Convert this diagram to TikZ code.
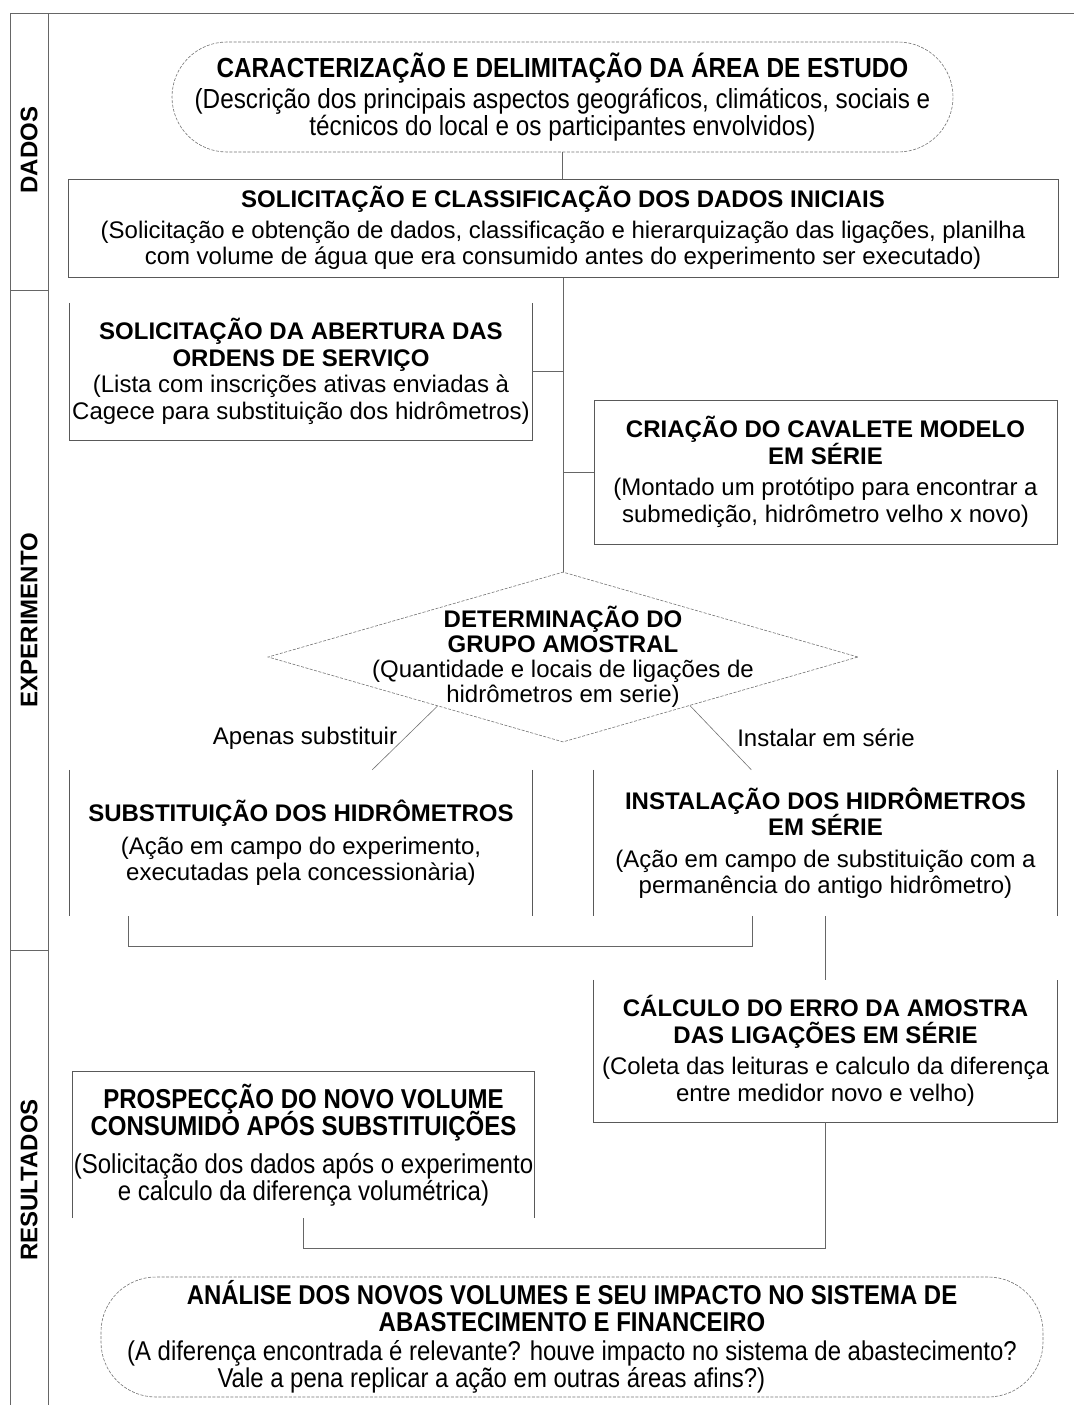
\documentclass[tikz,border=0pt]{standalone}
\usepackage{fontspec}
\setmainfont{Liberation Sans}
\newfontfamily\narrowfont[FakeStretch=0.88]{Liberation Sans}
\usetikzlibrary{shapes.geometric, calc}
\setlength{\lineskiplimit}{-30pt}

\begin{document}
\begin{tikzpicture}[
    x=1pt, y=-1pt,
    every node/.style={font=\fontsize{24}{26.5}\selectfont},
    frame/.style={draw=black!60, line width=1pt},
    edge/.style={draw=black!65, line width=1pt},
    cnct/.style={draw=black!60, line width=1pt},
    thin cnct/.style={draw=black!55, line width=0.6pt},
    blk/.style={rectangle, inner sep=0pt, align=center},
    box/.style={blk, draw=black!65, line width=1pt},
    term/.style={rectangle, rounded corners=55pt, draw=black!55, line width=0.6pt, dash pattern=on 3pt off 1.5pt,
                 inner sep=0pt, align=center, font=\narrowfont\fontsize{27.6}{26.5}\selectfont},
    dmd/.style={diamond, draw=black!55, line width=0.6pt, dash pattern=on 3pt off 1.5pt,
                minimum width=590pt, minimum height=170pt, inner sep=0pt},
    sec/.style={rotate=90, font=\fontsize{24}{26}\selectfont\bfseries}
  ]
    \useasboundingbox (0,0) rectangle (1074,1405);

    % left column with the phases
    \draw[frame] (10,1405) -- (10,14) -- (1074,14);
    \draw[frame] (48,14) -- (48,1405);
    \draw[frame] (10,290) -- (48,290);
    \draw[frame] (10,950) -- (48,950);
    \node[sec] (secdados) at (29,150) {DADOS};
    \node[sec] (secexp) at (29,620) {EXPERIMENTO};
    \node[sec] (secres) at (29,1180) {RESULTADOS};

    % dados
    \node[term, minimum width=781pt, minimum height=110pt] (area) at (562.5,97)
      {{\bfseries CARACTERIZAÇÃO E DELIMITAÇÃO DA ÁREA DE ESTUDO}\\[5pt]
       (Descrição dos principais aspectos geográficos, climáticos, sociais e\\
       técnicos do local e os participantes envolvidos)};
    \node[box, minimum width=990pt, minimum height=98pt] (dados) at (563,228)
      {{\bfseries SOLICITAÇÃO E CLASSIFICAÇÃO DOS DADOS INICIAIS}\\[4pt]
       (Solicitação e obtenção de dados, classificação e hierarquização das ligações, planilha\\
       com volume de água que era consumido antes do experimento ser executado)};

    % experimento
    \node[blk, minimum width=462pt, minimum height=137pt] (ordens) at (301,371.5)
      {{\bfseries SOLICITAÇÃO DA ABERTURA DAS}\\
       {\bfseries ORDENS DE SERVIÇO}\\
       (Lista com inscrições ativas enviadas à\\
       Cagece para substituição dos hidrômetros)};
    \node[box, minimum width=463pt, minimum height=144pt] (cavalete) at (825.5,472)
      {{\bfseries CRIAÇÃO DO CAVALETE MODELO}\\
       {\bfseries EM SÉRIE}\\[5pt]
       (Montado um protótipo para encontrar a\\
       submedição, hidrômetro velho x novo)};
    \node[dmd] (grupo) at (563,657) {};
    \node[blk, font=\fontsize{24}{25}\selectfont] (grupotxt) at (grupo.center)
      {{\bfseries DETERMINAÇÃO DO}\\
       {\bfseries GRUPO AMOSTRAL}\\
       (Quantidade e locais de ligações de\\
       hidrômetros em serie)};
    \node (apenas) at (305,738) {Apenas substituir};
    \node (instalar) at (826,738) {Instalar em série};
    \node[blk, minimum width=462pt, minimum height=146pt] (subst) at (301,843)
      {{\bfseries SUBSTITUIÇÃO DOS HIDRÔMETROS}\\[6pt]
       (Ação em campo do experimento,\\
       executadas pela concessionària)};
    \node[blk, minimum width=463pt, minimum height=146pt] (instal) at (825.5,843)
      {{\bfseries INSTALAÇÃO DOS HIDRÔMETROS}\\
       {\bfseries EM SÉRIE}\\[5pt]
       (Ação em campo de substituição com a\\
       permanência do antigo hidrômetro)};

    % resultados
    \node[blk, minimum width=463pt, minimum height=142pt] (calc) at (825.5,1051)
      {{\bfseries CÁLCULO DO ERRO DA AMOSTRA}\\
       {\bfseries DAS LIGAÇÕES EM SÉRIE}\\[5pt]
       (Coleta das leituras e calculo da diferença\\
       entre medidor novo e velho)};
    \node[blk, minimum width=461pt, minimum height=146pt, font=\narrowfont\fontsize{27.3}{26.5}\selectfont] (prosp) at (303.5,1145)
      {{\bfseries PROSPECÇÃO DO NOVO VOLUME}\\
       {\bfseries CONSUMIDO APÓS SUBSTITUIÇÕES}\\[12pt]
       (Solicitação dos dados após o experimento\\
       e calculo da diferença volumétrica)};
    \node[term, minimum width=942pt, minimum height=120pt, font=\narrowfont\fontsize{27.2}{26.5}\selectfont] (analise) at (572,1337)
      {{\bfseries ANÁLISE DOS NOVOS VOLUMES E SEU IMPACTO NO SISTEMA DE}\\
       {\bfseries ABASTECIMENTO E FINANCEIRO}\\[3pt]
       (A diferença encontrada é relevante? houve impacto no sistema de abastecimento?\\
       \makebox[893pt][l]{\hspace{92pt}Vale a pena replicar a ação em outras áreas afins?)}};

    % open box edges
    \draw[edge] (ordens.north west) -- (ordens.south west) -- (ordens.south east) -- (ordens.north east);
    \draw[edge] (subst.north west) -- (subst.south west) (subst.north east) -- (subst.south east);
    \draw[edge] (instal.north west) -- (instal.south west) (instal.north east) -- (instal.south east);
    \draw[edge] (calc.north west) -- (calc.south west) -- (calc.south east) -- (calc.north east);
    \draw[edge] (prosp.south west) -- (prosp.north west) -- (prosp.north east) -- (prosp.south east);

    % connectors
    \draw[cnct] (area.south) -- (area.south |- dados.north);
    \draw[cnct] (dados.south -| grupo.north) -- (grupo.north);
    \draw[cnct] (ordens.east) -- (ordens.east -| grupo.north);
    \draw[cnct] (cavalete.west) -- (cavalete.west -| grupo.north);
    \draw[thin cnct] ($(grupo.south)!0.425!(grupo.west)$) -- ($(subst.north west)!0.654!(subst.north east)$);
    \draw[thin cnct] ($(grupo.south)!0.43!(grupo.east)$) -- ($(instal.north west)!0.34!(instal.north east)$);
    \draw[cnct] ([xshift=59pt]subst.south west) -- ++(0,30) -| ([xshift=159pt]instal.south west);
    \draw[cnct] (instal.south) -- (calc.north);
    \draw[cnct] (prosp.south) -- ++(0,30) -| (calc.south);
\end{tikzpicture}
\end{document}
